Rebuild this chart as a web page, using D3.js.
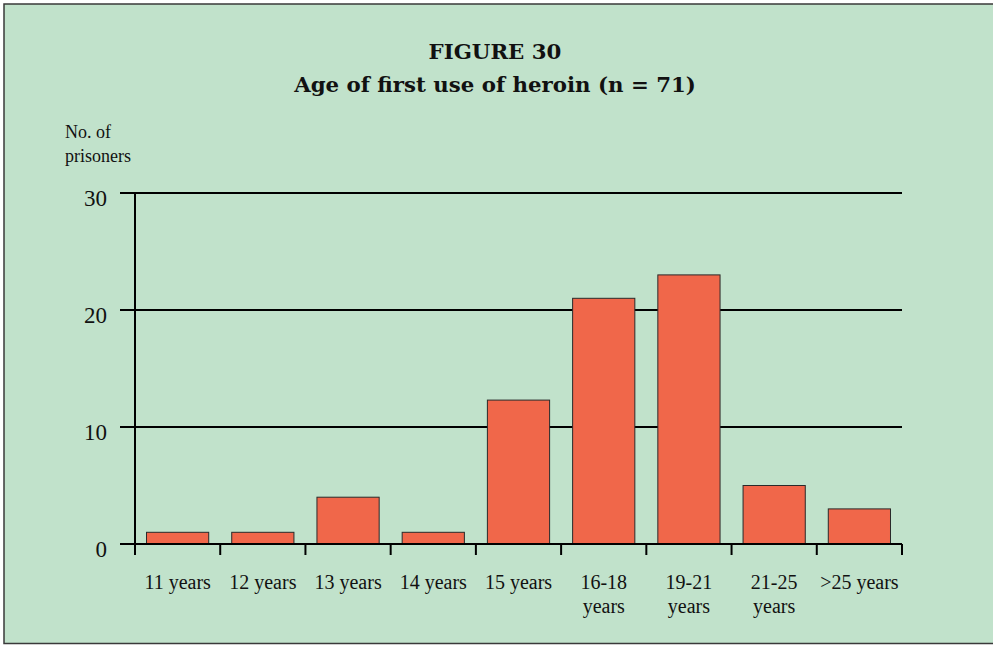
<!DOCTYPE html>
<head>
  <title>Figure 30</title>
</head>
<style>

html, body {
  width: 100%;
  height: 100%;
  padding: 0;
  margin: 0;
  background: #ffffff;
}

svg text {
  font-family: "Liberation Serif", "Times New Roman", serif;
  fill: #111111;
}

svg text.title {
  font-family: "DejaVu Serif", serif;
}

.bars rect {
  fill: #f0674a;
  stroke: #2a2a2a;
  stroke-width: 1px;
}

.grid line, .axis line {
  stroke: #000000;
  stroke-width: 2px;
}
</style>

<svg class="chart" width="993" height="645"></svg>

<script src="https://d3js.org/d3.v7.min.js"></script>
<script>
/**
 * Age groups on the x axis, with the labels split over lines as drawn.
 */
var categories = ["11 years", "12 years", "13 years", "14 years", "15 years",
                  "16-18 years", "19-21 years", "21-25 years", ">25 years"];
var categoryLines = [["11 years"], ["12 years"], ["13 years"], ["14 years"], ["15 years"],
                     ["16-18", "years"], ["19-21", "years"], ["21-25", "years"], [">25 years"]];

/**
 * Number of prisoners per age group.
 */
var prisoners = [1, 1, 4, 1, 12.3, 21, 23, 5, 3];

var yTicks = [0, 10, 20, 30];

var titleLines = ["FIGURE 30", "Age of first use of heroin (n = 71)"];
var yLabelLines = ["No. of", "prisoners"];

var svg = d3.select("svg");

// panel and frame
svg.append("rect")
  .attr("x", 4)
  .attr("y", 4)
  .attr("width", 1010)
  .attr("height", 639.5)
  .attr("fill", "#c1e2cb")
  .attr("stroke", "#3a3a3a")
  .attr("stroke-width", 1.5);

var x = d3.scaleBand()
          .domain(categories)
          .range([135, 902])
          .paddingInner(0.27)
          .paddingOuter(0.135);

var y = d3.scaleLinear()
          .domain([0, 30])
          .range([544, 193]);

// horizontal grid lines with small stubs left of the axis
svg.append("g")
  .attr("class", "grid")
  .selectAll("line")
  .data(yTicks)
  .enter().append("line")
    .attr("x1", 120)
    .attr("x2", x.range()[1])
    .attr("y1", function(d) { return y(d); })
    .attr("y2", function(d) { return y(d); });

svg.append("g")
  .selectAll("text")
  .data(yTicks)
  .enter().append("text")
    .attr("x", 107)
    .attr("y", function(d) { return y(d) + 13; })
    .attr("text-anchor", "end")
    .attr("font-size", 23)
    .text(function(d) { return d; });

// bars
svg.append("g")
  .attr("class", "bars")
  .selectAll("rect")
  .data(prisoners)
  .enter().append("rect")
    .attr("x", function(d, i) { return x(categories[i]); })
    .attr("width", x.bandwidth())
    .attr("y", function(d) { return y(d); })
    .attr("height", function(d) { return y(0) - y(d); });

// axes drawn over the bars
var axis = svg.append("g").attr("class", "axis");

axis.append("line")
  .attr("x1", x.range()[0])
  .attr("x2", x.range()[0])
  .attr("y1", y(30))
  .attr("y2", y(0));

axis.append("line")
  .attr("x1", 120)
  .attr("x2", x.range()[1])
  .attr("y1", y(0))
  .attr("y2", y(0));

// ticks at the boundaries between categories
axis.selectAll(".tick")
  .data(d3.range(categories.length + 1))
  .enter().append("line")
    .attr("class", "tick")
    .attr("x1", function(i) { return x.range()[0] + i * x.step(); })
    .attr("x2", function(i) { return x.range()[0] + i * x.step(); })
    .attr("y1", y(0))
    .attr("y2", y(0) + 11);

// x labels
var labels = svg.append("g")
  .selectAll("text")
  .data(categories)
  .enter().append("text")
    .attr("text-anchor", "middle")
    .attr("font-size", 20)
    .attr("transform", function(d) { return "translate(" + (x(d) + x.bandwidth() / 2) + ",589)"; });

labels.selectAll("tspan")
  .data(function(d, i) { return categoryLines[i]; })
  .enter().append("tspan")
    .attr("x", 0)
    .attr("dy", function(d, i) { return i == 0 ? 0 : 24; })
    .text(function(d) { return d; });

// title
svg.append("g")
  .selectAll("text")
  .data(titleLines)
  .enter().append("text")
    .attr("class", "title")
    .attr("x", 495)
    .attr("y", function(d, i) { return 58.5 + i * 33; })
    .attr("text-anchor", "middle")
    .attr("font-size", 21.3)
    .attr("font-weight", "bold")
    .text(function(d) { return d; });

// y axis caption
svg.append("g")
  .selectAll("text")
  .data(yLabelLines)
  .enter().append("text")
    .attr("x", 65)
    .attr("y", function(d, i) { return 137.5 + i * 24; })
    .attr("font-size", 18)
    .text(function(d) { return d; });

</script>
